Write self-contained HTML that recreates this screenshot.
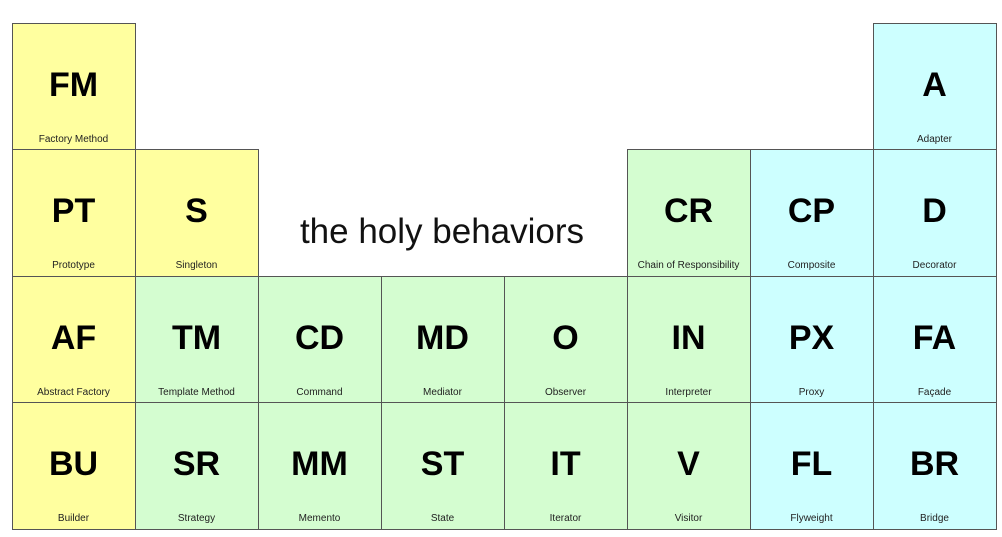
<!DOCTYPE html>
<html><head><meta charset="utf-8"><style>
body{margin:0;background:#fff;width:1002px;height:537px;position:relative;overflow:hidden;font-family:"Liberation Sans",Arial,sans-serif}
.c{position:absolute;box-sizing:border-box;border:1px solid #555;width:124px;height:127.5px}
.s{position:absolute;left:0;right:0;top:42px;text-align:center;font-weight:bold;font-size:34px;color:#000}
.l{position:absolute;left:0;right:0;top:110px;text-align:center;font-size:10px;color:#222}
.y{background:#ffff9f}.g{background:#d4fdd0}.b{background:#cdffff}
#title{position:absolute;left:242px;width:400px;top:212px;text-align:center;font-size:35px;color:#111}
</style></head><body>
<div id="title">the holy behaviors</div>
<script>
const symbols=[["FM",0,0,"y","Factory Method"],["A",7,0,"b","Adapter"],
["PT",0,1,"y","Prototype"],["S",1,1,"y","Singleton"],["CR",5,1,"g","Chain of Responsibility"],["CP",6,1,"b","Composite"],["D",7,1,"b","Decorator"],
["AF",0,2,"y","Abstract Factory"],["TM",1,2,"g","Template Method"],["CD",2,2,"g","Command"],["MD",3,2,"g","Mediator"],["O",4,2,"g","Observer"],["IN",5,2,"g","Interpreter"],["PX",6,2,"b","Proxy"],["FA",7,2,"b","Façade"],
["BU",0,3,"y","Builder"],["SR",1,3,"g","Strategy"],["MM",2,3,"g","Memento"],["ST",3,3,"g","State"],["IT",4,3,"g","Iterator"],["V",5,3,"g","Visitor"],["FL",6,3,"b","Flyweight"],["BR",7,3,"b","Bridge"]];
const x0=11.5,y0=22.5,cw=123,ch=126.5;
for(const [s,c,r,k,n] of symbols){
 const d=document.createElement('div');
 d.className='c '+k;
 d.style.left=(x0+c*cw)+'px';d.style.top=(y0+r*ch)+'px';
 
 
 const a=document.createElement('div');a.className='s';a.textContent=s;
 
 
 const b=document.createElement('div');b.className='l';b.textContent=n;
 
 
 d.appendChild(a);d.appendChild(b);document.body.appendChild(d);
}
</script>
</body></html>
